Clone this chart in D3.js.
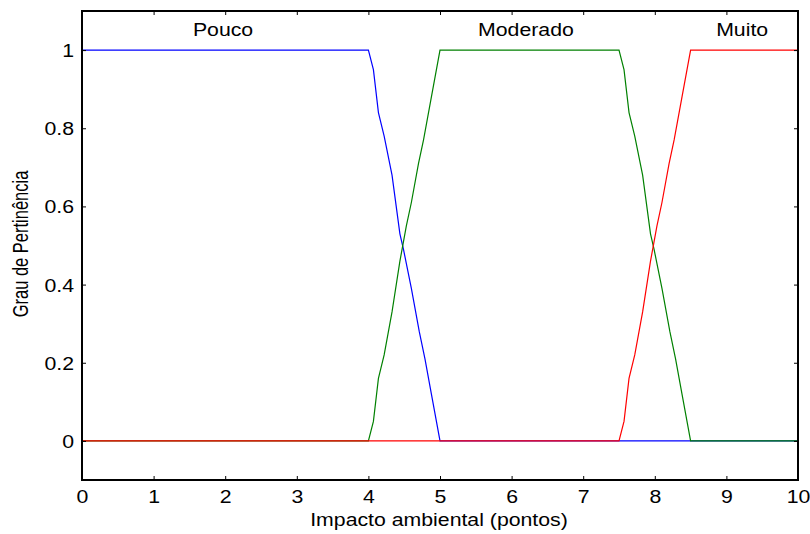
<!DOCTYPE html>
<html><head><meta charset="utf-8">
<script src="https://cdn.jsdelivr.net/npm/d3@7"></script>
<style>body{margin:0;background:#fff;} svg{display:block;}</style>
</head><body>
<svg id="c" width="810" height="534"></svg>
<script>
// Data
const xTicks = [0,1,2,3,4,5,6,7,8,9,10];
const yTicks = [0,0.2,0.4,0.6,0.8,1];
const yTickLabels = ["0","0.2","0.4","0.6","0.8","1"];
const pouco_x = [0,4,4.07,4.14,4.22,4.33,4.44,4.49,4.6,4.71,4.79,4.88,5,10];
const pouco_y = [1,1,0.95,0.84,0.78,0.68,0.53,0.49,0.39,0.28,0.21,0.12,0,0];
const moderado_x = [0,4,4.07,4.14,4.22,4.33,4.44,4.53,4.6,4.7,4.77,4.88,5,7.5,7.57,7.64,7.72,7.83,7.94,7.99,8.1,8.21,8.29,8.38,8.5,10];
const moderado_y = [0,0,0.05,0.16,0.22,0.33,0.46,0.55,0.61,0.71,0.77,0.88,1,1,0.95,0.84,0.78,0.68,0.53,0.49,0.39,0.28,0.21,0.12,0,0];
const muito_x = [0,7.5,7.57,7.64,7.72,7.83,7.94,8.03,8.1,8.2,8.27,8.38,8.5,10];
const muito_y = [0,0,0.05,0.16,0.22,0.33,0.46,0.55,0.61,0.71,0.77,0.88,1,1];
const labels = ["Pouco","Moderado","Muito"];
const labelX = [1.97,6.2,9.22];
const labelY = 1.035;

const svg = d3.select("#c");
const L=82, R=798, T=11, B=480;
const x = d3.scaleLinear().domain([0,10]).range([L,R]);
const y = d3.scaleLinear().domain([-0.1,1.1]).range([B,T]);
const font = "'Liberation Sans', Arial, sans-serif";
const FS = 18.5, SX = 1.15;

const line = d3.line().x(d=>x(d[0])).y(d=>y(d[1]));
const series = [
  {xs:pouco_x, ys:pouco_y, color:"#0000ff"},
  {xs:moderado_x, ys:moderado_y, color:"#008000"},
  {xs:muito_x, ys:muito_y, color:"#ff0000"}
];
series.forEach(s=>{
  svg.append("path").datum(s.xs.map((v,i)=>[v,s.ys[i]]))
    .attr("d", line).attr("fill","none").attr("stroke", s.color).attr("stroke-width",1.2);
});

// axes (ticks inside)
const tl = 4;
const gB = svg.append("g").attr("transform",`translate(0,${B})`)
  .call(d3.axisBottom(x).tickValues(xTicks).tickSizeInner(-tl).tickSizeOuter(0).tickFormat(d3.format("d")));
const gT = svg.append("g").attr("transform",`translate(0,${T})`)
  .call(d3.axisTop(x).tickValues(xTicks).tickSizeInner(-tl).tickSizeOuter(0).tickFormat(""));
const gL = svg.append("g").attr("transform",`translate(${L},0)`)
  .call(d3.axisLeft(y).tickValues(yTicks).tickSizeInner(-tl).tickSizeOuter(0).tickFormat((d,i)=>yTickLabels[i]));
const gR = svg.append("g").attr("transform",`translate(${R},0)`)
  .call(d3.axisRight(y).tickValues(yTicks).tickSizeInner(-tl).tickSizeOuter(0).tickFormat(""));
[gB,gT,gL,gR].forEach(g=>{
  g.select(".domain").remove();
  g.selectAll("line").attr("stroke","#000").attr("stroke-width",1);
  g.selectAll("text").attr("font-family",font).attr("font-size",FS).attr("fill","#000");
});
gB.selectAll("text").attr("x",0).attr("y",0).attr("dy",0)
  .attr("transform",`translate(0,23) scale(${SX},1)`);
gL.selectAll("text").attr("x",0).attr("y",0).attr("dy","0.35em")
  .attr("transform",`translate(-8,0) scale(${SX},1)`);

svg.append("rect").attr("x",L).attr("y",T).attr("width",R-L).attr("height",B-T)
  .attr("fill","none").attr("stroke","#000").attr("stroke-width",2);

// labels
svg.selectAll(".lbl").data(labels).enter().append("text")
  .attr("transform",(d,i)=>`translate(${x(labelX[i])},${y(labelY)}) scale(${SX},1)`)
  .attr("text-anchor","middle")
  .attr("font-family",font).attr("font-size",FS).text(d=>d);

svg.append("text").attr("transform",`translate(${(L+R)/2 - 1},526) scale(${SX},1)`).attr("text-anchor","middle")
  .attr("font-family",font).attr("font-size",FS).text("Impacto ambiental (pontos)");
svg.append("text").attr("transform",`translate(28,244) rotate(-90) scale(1,1.35)`).attr("text-anchor","middle")
  .attr("font-family",font).attr("font-size",16.5).text("Grau de Pertinência");
</script>
</body></html>
